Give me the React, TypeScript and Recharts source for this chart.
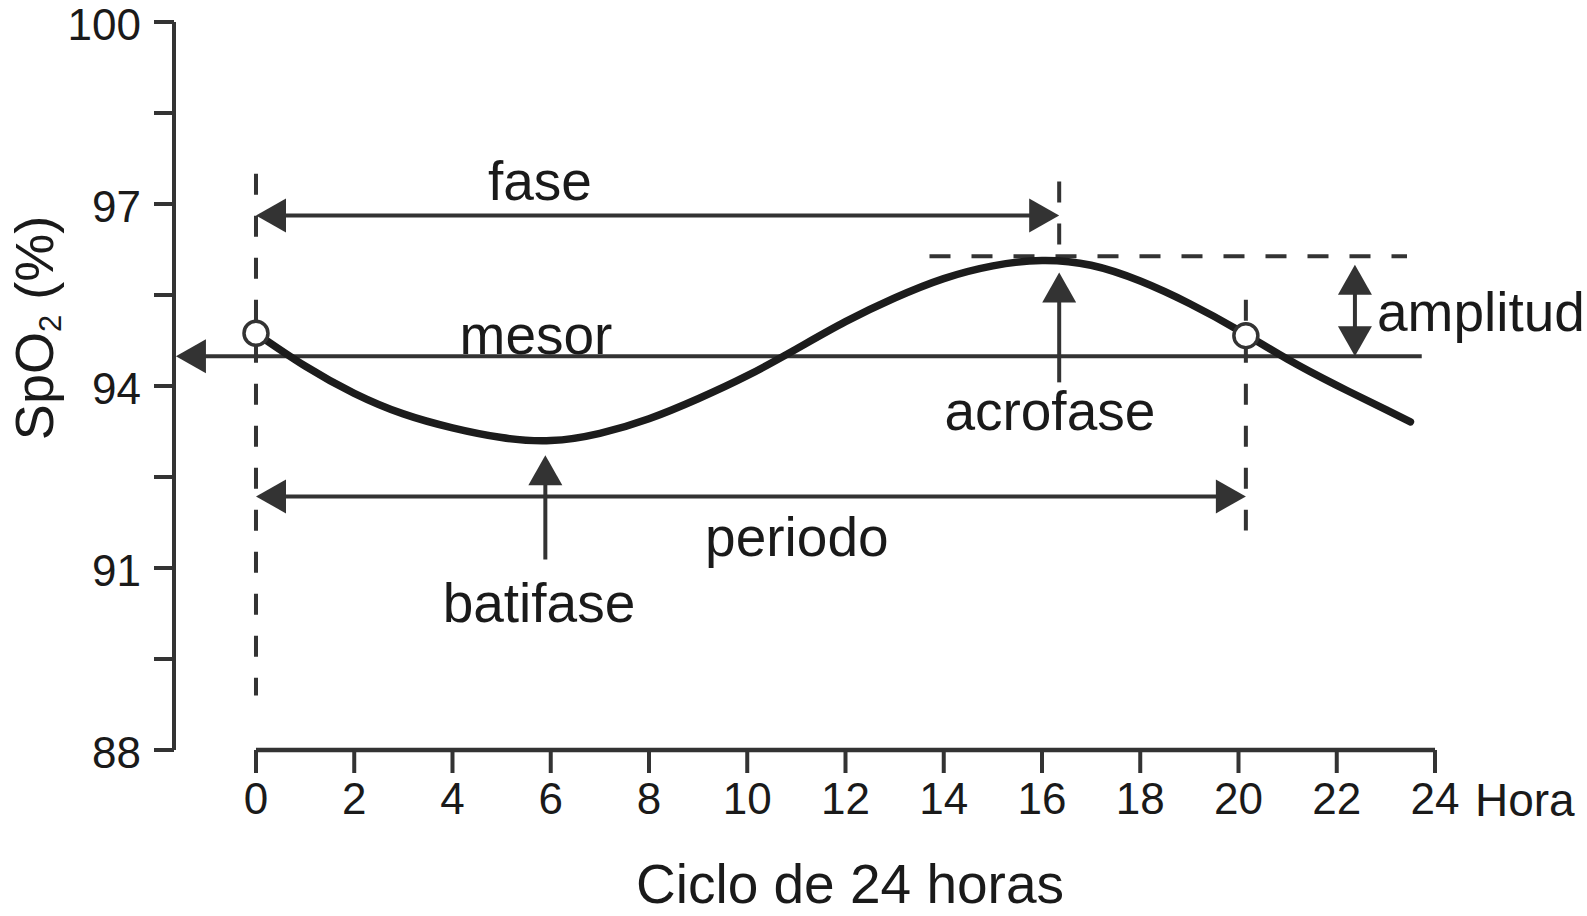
import { ComposedChart, Line, XAxis, YAxis, ReferenceLine, ReferenceDot } from "recharts"

const FONT = "'Liberation Sans', Arial, Helvetica, sans-serif"
const INK = "#333333"
const TEXT = "#1a1a1a"

// hour of the day and SpO2
const hours = [0, 1, 2, 3, 4, 5, 6, 7, 8, 9, 10, 11, 12, 13, 14, 15, 16, 17, 18, 19, 20, 21, 22, 23, 23.5]
const spo2 = [
  94.87, 94.33, 93.88, 93.54, 93.31, 93.15, 93.1, 93.22, 93.46, 93.79, 94.17, 94.61, 95.06,
  95.45, 95.77, 95.98, 96.07, 95.99, 95.73, 95.36, 94.92, 94.44, 94.01, 93.61, 93.41,
]

const xTicks = [0, 2, 4, 6, 8, 10, 12, 14, 16, 18, 20, 22, 24]
const yTicks = [88, 89.5, 91, 92.5, 94, 95.5, 97, 98.5, 100]

// open circles where the curve crosses the period start / end
const markers = [
  { h: 0, v: 94.87 },
  { h: 20.15, v: 94.83 },
]

// dashed guides
const guides = [
  { x1: 0, y1: 97.5, x2: 0, y2: 88.9 },
  { x1: 16.35, y1: 97.37, x2: 16.35, y2: 96.14 },
  { x1: 13.71, y1: 96.14, x2: 23.43, y2: 96.14 },
  { x1: 20.15, y1: 95.42, x2: 20.15, y2: 91.62 },
]

// solid arrows
const arrows = [
  { x1: 23.73, y1: 94.49, x2: -1.63, y2: 94.49, heads: "end" },
  { x1: 0, y1: 96.81, x2: 16.35, y2: 96.81, heads: "both" },
  { x1: 0, y1: 92.18, x2: 20.15, y2: 92.18, heads: "both" },
  { x1: 5.89, y1: 91.14, x2: 5.89, y2: 92.86, heads: "end" },
  { x1: 16.35, y1: 94.06, x2: 16.35, y2: 95.87, heads: "end" },
  { x1: 22.37, y1: 94.49, x2: 22.37, y2: 96.0, heads: "both" },
]

const notes = [
  { text: "fase", h: 5.78, v: 97.07, anchor: "middle" },
  { text: "mesor", h: 5.7, v: 94.53, anchor: "middle" },
  { text: "acrofase", h: 16.16, v: 93.28, anchor: "middle" },
  { text: "batifase", h: 5.76, v: 90.11, anchor: "middle" },
  { text: "periodo", h: 11.01, v: 91.2, anchor: "middle" },
  { text: "amplitud", h: 22.82, v: 94.91, anchor: "start" },
]

const data = hours.map((h, i) => ({ h, spo2: spo2[i] }))

const HEAD_LEN = 30
const HEAD_W = 17

function arrowShape(heads: string) {
  return (p: any) => {
    const { x1, y1, x2, y2 } = p
    const dx = x2 - x1
    const dy = y2 - y1
    const len = Math.hypot(dx, dy) || 1
    const ux = dx / len
    const uy = dy / len
    const head = (tx: number, ty: number, ex: number, ey: number) => {
      const bx = tx - ex * HEAD_LEN
      const by = ty - ey * HEAD_LEN
      const nx = -ey * HEAD_W
      const ny = ex * HEAD_W
      return <polygon points={`${tx},${ty} ${bx + nx},${by + ny} ${bx - nx},${by - ny}`} fill={INK} />
    }
    const s = heads !== "end" ? HEAD_LEN / 2 : 0
    const e = heads !== "start" ? HEAD_LEN / 2 : 0
    return (
      <g>
        <line
          x1={x1 + ux * s}
          y1={y1 + uy * s}
          x2={x2 - ux * e}
          y2={y2 - uy * e}
          stroke={INK}
          strokeWidth={4}
        />
        {heads !== "end" && head(x1, y1, -ux, -uy)}
        {heads !== "start" && head(x2, y2, ux, uy)}
      </g>
    )
  }
}

const XTick = (props: any) => {
  const { x, y, payload } = props
  return (
    <g>
      <text x={x} y={y} dy="0.71em" textAnchor="middle" fontSize={44} fill={TEXT} fontFamily={FONT}>
        {payload.value}
      </text>
      {payload.value === 24 && (
        <text x={x + 40} y={y} dy="0.71em" textAnchor="start" fontSize={46} fill={TEXT} fontFamily={FONT}>
          Hora
        </text>
      )}
    </g>
  )
}

const YTick = (props: any) => {
  const { x, y, payload } = props
  if (!Number.isInteger(payload.value)) return <g />
  return (
    <text x={x} y={y + 18} textAnchor="end" fontSize={44} fill={TEXT} fontFamily={FONT}>
      {payload.value}
    </text>
  )
}

const YTitle = () => (
  <text
    x={53}
    y={328}
    transform="rotate(-90, 53, 328)"
    textAnchor="middle"
    fontSize={54}
    fill={TEXT}
    fontFamily={FONT}
  >
    SpO
    <tspan fontSize={31} dy={8}>2</tspan>
    <tspan dy={-8}> (%)</tspan>
  </text>
)

const XTitle = () => (
  <text x={850} y={903} textAnchor="middle" fontSize={55} fill={TEXT} fontFamily={FONT}>
    Ciclo de 24 horas
  </text>
)

export default function App() {
  return (
    <div style={{ position: "absolute", left: 0, top: 0, width: 1587, height: 916, background: "#fff" }}>
      <ComposedChart width={1587} height={916} data={data} margin={{ top: 22, right: 152, bottom: 106, left: 0 }}>
        <XAxis
          type="number"
          dataKey="h"
          domain={[-1.669, 24]}
          allowDataOverflow
          ticks={xTicks}
          axisLine={false}
          tickLine={{ stroke: INK, strokeWidth: 4 }}
          tickSize={23}
          tickMargin={10}
          height={60}
          tick={<XTick />}
          label={{ content: <XTitle /> }}
        />
        <YAxis
          type="number"
          domain={[88, 100]}
          ticks={yTicks}
          interval={0}
          width={174}
          axisLine={{ stroke: INK, strokeWidth: 4 }}
          tickLine={{ stroke: INK, strokeWidth: 4 }}
          tickSize={20}
          tickMargin={13}
          tick={<YTick />}
          label={{ content: <YTitle /> }}
        />
        <ReferenceLine
          segment={[{ x: 0, y: 88 }, { x: 24, y: 88 }]}
          stroke={INK}
          strokeWidth={4.5}
          ifOverflow="visible"
        />
        {guides.map((g, i) => (
          <ReferenceLine
            key={"g" + i}
            segment={[{ x: g.x1, y: g.y1 }, { x: g.x2, y: g.y2 }]}
            stroke={INK}
            strokeWidth={4}
            strokeDasharray="21 21"
            ifOverflow="visible"
          />
        ))}
        {arrows.map((a, i) => (
          <ReferenceLine
            key={"a" + i}
            segment={[{ x: a.x1, y: a.y1 }, { x: a.x2, y: a.y2 }]}
            ifOverflow="visible"
            shape={arrowShape(a.heads)}
          />
        ))}
        <Line
          type="natural"
          dataKey="spo2"
          stroke="#1c1c1c"
          strokeWidth={7.5}
          strokeLinecap="round"
          dot={false}
          activeDot={false}
          isAnimationActive={false}
        />
        {markers.map((m, i) => (
          <ReferenceDot
            key={"m" + i}
            x={m.h}
            y={m.v}
            r={12}
            fill="#fff"
            stroke={INK}
            strokeWidth={3.5}
            ifOverflow="visible"
          />
        ))}
        {notes.map((n, i) => (
          <ReferenceDot
            key={"n" + i}
            x={n.h}
            y={n.v}
            ifOverflow="visible"
            shape={(p: any) => (
              <text x={p.cx} y={p.cy} textAnchor={n.anchor as any} fontSize={55} fill={TEXT} fontFamily={FONT}>
                {n.text}
              </text>
            )}
          />
        ))}
      </ComposedChart>
    </div>
  )
}
